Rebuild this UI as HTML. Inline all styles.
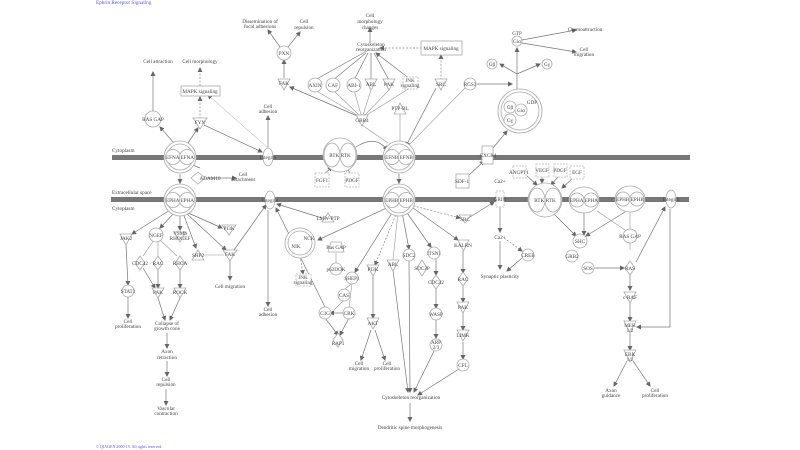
<!DOCTYPE html>
<html><head><meta charset="utf-8"><style>
body{margin:0;background:#fff;width:800px;height:450px;overflow:hidden}
svg{display:block}
text{font-family:"Liberation Serif",serif;font-size:5.2px;fill:#444;text-anchor:middle}
.n{fill:#fff;stroke:#aaa;stroke-width:0.8}
.d{fill:#fff;stroke:#bbb;stroke-width:0.8;stroke-dasharray:2 1}
.l{stroke:#777;stroke-width:0.7;fill:none;marker-end:url(#a)}
.ld{stroke:#888;stroke-width:0.7;fill:none;stroke-dasharray:2 1.5;marker-end:url(#a)}
.lt{stroke:#aaa;stroke-width:0.5;fill:none;marker-end:url(#a)}
.p{stroke:#999;stroke-width:0.6;fill:none}
</style></head><body>
<svg width="800" height="450" viewBox="0 0 800 450">
<defs><marker id="a" markerWidth="5" markerHeight="5" refX="4" refY="2.5" orient="auto" markerUnits="userSpaceOnUse"><path d="M0,0L5,2.5L0,5z" fill="#666"/></marker></defs>
<text x="96" y="4" style="fill:#55f;text-anchor:start">Ephrin Receptor Signaling</text>
<text x="96" y="448" style="fill:#55f;text-anchor:start;font-size:4px">© QIAGEN 2000-19. All rights reserved.</text>
<rect x="112" y="155" width="578" height="5" fill="#777"/>
<rect x="111" y="197" width="578" height="5" fill="#777"/>
<text x="112" y="152" style="text-anchor:start">Cytoplasm</text>
<text x="112" y="194" style="text-anchor:start">Extracellular space</text>
<text x="112" y="210" style="text-anchor:start">Cytoplasm</text>

<!-- lines -->
<path class="l" d="M174,143L160,127"/><path class="l" d="M188,143L198,128"/><path class="l" d="M153,111L153,72"/>
<path class="ld" d="M200,119L200,97"/><path class="ld" d="M200,86L200,68"/><path class="lt" d="M268,148L208,95"/>
<path class="l" d="M204,125L262,152"/><path class="l" d="M268,147L268,116"/>
<path class="l" d="M284,78L284,60"/><path class="l" d="M280,47L268,30"/><path class="l" d="M288,47L300,32"/>
<path class="l" d="M370,43L370,28"/><path class="ld" d="M436,48L380,48"/><path class="ld" d="M441,80L441,55"/>
<path class="p" d="M362,118L315,90M362,118L333,90M362,118L354,90M362,118L371,90M362,118L389,90M362,118L410,88"/>
<path class="l" d="M315,80L365,52M333,80L366,53M354,80L368,53M371,80L371,53M389,80L374,53M410,79L376,53"/>
<path class="l" d="M362,118L290,87"/><path class="p" d="M362,125L388,143"/>
<path class="l" d="M436,88L406,146"/><path class="p" d="M400,113L400,141"/><path class="p" d="M465,88L408,146"/>
<path class="l" d="M356,147C370,138 380,140 387,150"/>
<path class="l" d="M322,176L332,167"/><path class="l" d="M352,176L346,167"/>
<path class="l" d="M200,168L185,162"/><path class="l" d="M206,178L236,178"/>
<path class="l" d="M180,174L180,183"/><path class="l" d="M399,174L399,183"/>
<path class="l" d="M467,177L484,161"/><path class="l" d="M493,148L507,131"/>
<path class="l" d="M517,89L517,48"/><path class="l" d="M477,84L512,84"/>
<path class="p" d="M517,74L500,64"/><path class="l" d="M517,74L500,64"/><path class="l" d="M517,74L540,64"/>
<path class="l" d="M522,40L576,30"/><path class="l" d="M522,43L576,52"/>
<!-- lower -->
<path class="l" d="M170,210L132,234"/><path class="l" d="M175,212L160,228"/><path class="l" d="M180,214L180,230"/>
<path class="l" d="M186,212L222,228"/><path class="l" d="M183,213L196,248"/><path class="l" d="M186,213L226,250"/>
<path class="l" d="M126,245L128,285"/><path class="p" d="M154,240L143,256M158,240L158,256M160,240L177,256"/>
<path class="l" d="M143,268L155,288"/><path class="l" d="M158,268L158,288"/><path class="l" d="M180,268L180,288"/>
<path class="l" d="M128,297L128,318"/><path class="l" d="M158,298L165,320"/><path class="l" d="M180,298L170,320"/>
<path class="l" d="M167,333L167,348"/><path class="l" d="M167,361L167,376"/><path class="l" d="M166,389L166,405"/>
<path class="p" d="M203,255L224,255"/><path class="l" d="M230,261L230,280"/><path class="l" d="M234,250L266,205"/>
<path class="l" d="M268,210L268,306"/><path class="l" d="M322,218L277,204"/>
<path class="l" d="M393,205L318,240"/><path class="l" d="M325,307L276,208"/><path class="ld" d="M300,256L303,274"/>
<path class="p" d="M336,253L336,264"/><path class="l" d="M395,208L355,272"/><path class="p" d="M352,283L344,290M344,300L334,310M352,283L349,308"/>
<path class="l" d="M344,313L330,313"/><path class="l" d="M325,318L338,335"/><path class="l" d="M349,318L340,335"/>
<path class="ld" d="M397,212L375,265"/><path class="l" d="M373,276L373,318"/><path class="l" d="M371,330L361,360"/><path class="l" d="M375,330L385,360"/>
<path class="p" d="M398,212L393,260"/><path class="l" d="M402,212L409,249"/><path class="l" d="M405,210L431,247"/>
<path class="l" d="M393,270L408,392"/><path class="l" d="M409,261L410,392"/><path class="l" d="M436,258L436,275"/><path class="l" d="M436,288L436,308"/>
<path class="l" d="M436,320L436,338"/><path class="l" d="M434,351L414,392"/><path class="l" d="M459,369L418,395"/>
<path class="l" d="M410,403L410,421"/><path class="ld" d="M410,205L460,218"/><path class="l" d="M470,217L494,202"/>
<path class="l" d="M406,203L458,240"/><path class="l" d="M463,251L463,273"/><path class="l" d="M463,285L463,302"/><path class="l" d="M463,313L463,330"/><path class="l" d="M463,342L463,359"/>
<path class="l" d="M500,206L500,232"/><path class="l" d="M500,241L500,269"/><path class="ld" d="M504,238L522,251"/><path class="l" d="M522,258L507,271"/>
<path class="l" d="M527,176L537,185"/><path class="l" d="M542,176L542,183"/><path class="l" d="M558,177L551,185"/><path class="l" d="M573,178L562,188"/>
<path class="l" d="M553,213L576,236"/><path class="l" d="M584,213L584,235"/><path class="l" d="M625,212L586,236"/><path class="p" d="M597,211L628,232M630,212L630,231M630,241L630,250"/>
<path class="l" d="M594,268L624,268"/><path class="l" d="M630,274L630,290"/><path class="l" d="M630,303L630,321"/><path class="l" d="M630,333L630,350"/>
<path class="l" d="M627,361L614,386"/><path class="l" d="M633,361L650,386"/><path class="l" d="M636,262L665,207"/><path class="l" d="M670,209L670,327L637,327"/>

<!-- membrane complexes -->
<g><circle class="n" cx="180" cy="157" r="16"/><circle class="n" cx="180" cy="157" r="13"/><circle class="n" cx="173" cy="157" r="7.5"/><circle class="n" cx="187" cy="157" r="7.5"/><text x="180" y="159">EFNA EFNA</text></g>
<g><circle class="n" cx="180" cy="200" r="16"/><circle class="n" cx="180" cy="200" r="13"/><circle class="n" cx="173" cy="200" r="7.5"/><circle class="n" cx="187" cy="200" r="7.5"/><text x="180" y="202">EPHA EPHA</text></g>
<g><circle class="n" cx="399" cy="157" r="16"/><circle class="n" cx="399" cy="157" r="13"/><circle class="n" cx="392" cy="157" r="7.5"/><circle class="n" cx="406" cy="157" r="7.5"/><text x="399" y="159">EFNB EFNB</text></g>
<g><circle class="n" cx="399" cy="200" r="16"/><circle class="n" cx="399" cy="200" r="13"/><circle class="n" cx="392" cy="200" r="7.5"/><circle class="n" cx="406" cy="200" r="7.5"/><text x="399" y="202">EPHB EPHB</text></g>
<g><circle class="n" cx="340" cy="155" r="17"/><ellipse class="n" cx="332" cy="155" rx="8" ry="12"/><ellipse class="n" cx="348" cy="155" rx="8" ry="12"/><text x="340" y="157">RTK RTK</text></g>
<g><circle class="n" cx="545" cy="200" r="17"/><ellipse class="n" cx="537" cy="200" rx="8" ry="12"/><ellipse class="n" cx="553" cy="200" rx="8" ry="12"/><text x="545" y="202">RTK RTK</text></g>
<g><ellipse class="n" cx="584" cy="200" rx="15" ry="13"/><circle class="n" cx="577" cy="200" r="7"/><circle class="n" cx="591" cy="200" r="7"/><text x="584" y="202">EPHA EPHA</text></g>
<g><ellipse class="n" cx="630" cy="199" rx="15" ry="13"/><circle class="n" cx="623" cy="199" r="7"/><circle class="n" cx="637" cy="199" r="7"/><text x="630" y="201">EPHB EPHB</text></g>
<ellipse class="n" cx="268" cy="157" rx="5" ry="9"/><text x="268" y="159">Integrin</text>
<ellipse class="n" cx="270" cy="200" rx="5" ry="9"/><text x="270" y="202">Integrin</text>
<ellipse class="n" cx="671" cy="199" rx="5" ry="9"/><text x="671" y="201">Integrin</text>
<rect class="n" x="482" y="146" width="11" height="18"/><text x="488" y="157">CXCR4</text>
<rect class="d" x="496" y="191" width="8" height="16"/><text x="500" y="201">GRIN</text>

<!-- circles -->
<g class="n">
<circle cx="153" cy="119" r="8"/><circle cx="284" cy="53" r="7"/><circle cx="315" cy="85" r="7"/><circle cx="333" cy="85" r="7"/><circle cx="354" cy="85" r="7"/><circle cx="470" cy="84" r="6"/>
<circle cx="517" cy="41" r="5"/><circle cx="492" cy="64" r="5"/><circle cx="547" cy="64" r="5"/>
<circle cx="520" cy="111" r="22"/><circle cx="520" cy="111" r="19"/><circle cx="510" cy="107" r="6"/><circle cx="521" cy="110" r="6"/><circle cx="510" cy="120" r="6"/>
<circle cx="156" cy="235" r="7"/><circle cx="128" cy="291" r="6"/><circle cx="300" cy="243" r="15"/><circle cx="300" cy="243" r="12"/><circle cx="336" cy="269" r="6"/><circle cx="352" cy="278" r="6"/><circle cx="344" cy="295" r="6"/><circle cx="325" cy="313" r="6"/><circle cx="349" cy="313" r="6"/>
<circle cx="409" cy="255" r="6"/><circle cx="434" cy="253" r="6"/><circle cx="436" cy="314" r="6"/><circle cx="436" cy="345" r="6"/><circle cx="463" cy="365" r="6"/><circle cx="528" cy="255" r="6"/>
<circle cx="580" cy="241" r="7"/><circle cx="572" cy="256" r="6"/><circle cx="588" cy="268" r="6"/><circle cx="630" cy="236" r="7"/>
</g>
<!-- triangles down -->
<g class="n">
<path d="M193,118h14l-7,11z"/><path d="M278,79h12l-6,11z"/><path d="M365,79h12l-6,11z"/><path d="M383,79h12l-6,11z"/><path d="M435,79h12l-6,11z"/><path d="M356,115h12l-6,11z"/>
<path d="M120,234h12l-6,11z"/><path d="M174,232h12l-6,10z"/><path d="M222,225h14l-7,10z"/><path d="M223,250h14l-7,11z"/><path d="M152,288h12l-6,10z"/><path d="M174,288h12l-6,10z"/>
<path d="M367,265h12l-6,11z"/><path d="M367,318h12l-6,11z"/><path d="M387,260h12l-6,11z"/><path d="M458,240h11l-5.5,11z"/><path d="M457,302h12l-6,11z"/><path d="M457,330h12l-6,11z"/>
<path d="M459,215h12l-6,8z"/><path d="M624,292h12l-6,11z"/><path d="M624,321h12l-6,12z"/><path d="M624,350h12l-6,12z"/>
</g>
<!-- triangles up -->
<g class="n"><path d="M394,114h12l-6,-11z"/><path d="M322,222h12l-6,-9z"/><path d="M192,260h12l-6,-10z"/></g>
<!-- diamonds -->
<g class="n"><path d="M198,172l7,6l-7,6l-7,-6z"/><path d="M140,256l5,7l-5,7l-5,-7z"/><path d="M158,256l5,7l-5,7l-5,-7z"/><path d="M180,256l5,7l-5,7l-5,-7z"/>
<path d="M338,333l5,7l-5,7l-5,-7z"/><path d="M422,260l5,8l-5,8l-5,-8z"/><path d="M436,275l5,7l-5,7l-5,-7z"/><path d="M463,272l5,7l-5,7l-5,-7z"/><path d="M630,261l5,7l-5,7l-5,-7z"/></g>
<!-- boxes -->
<rect class="n" x="181" y="86" width="39" height="10"/><rect class="n" x="421" y="41" width="41" height="14"/>
<rect class="d" x="403" y="77" width="15" height="12"/><rect class="d" x="296" y="274" width="15" height="12"/>
<rect class="d" x="315" y="173" width="14" height="14"/><rect class="d" x="345" y="173" width="14" height="14"/>
<rect class="n" x="456" y="174" width="13" height="14"/><rect class="d" x="513" y="166" width="13" height="12"/><rect class="d" x="536" y="164" width="13" height="13"/><rect class="d" x="554" y="164" width="13" height="13"/><rect class="d" x="570" y="166" width="14" height="13"/>
<path class="n" d="M331,242h10l3,10h-16z"/><circle class="n" cx="500" cy="181" r="0.1"/>

<!-- labels -->
<text x="158" y="63">Cell attraction</text><text x="200" y="63">Cell morphology</text><text x="200" y="93">MAPK signaling</text>
<text x="153" y="121">RAS GAP</text><text x="200" y="124">FYN</text><text x="268" y="108">Cell</text><text x="268" y="113">adhesion</text>
<text x="260" y="23">Dissemination of</text><text x="260" y="28">focal adhesions</text><text x="304" y="23">Cell</text><text x="304" y="29">repulsion</text>
<text x="284" y="55">PXN</text><text x="284" y="85">FAK</text><text x="370" y="17">Cell</text><text x="370" y="23">morphology</text><text x="370" y="29">changes</text>
<text x="371" y="46">Cytoskeleton</text><text x="371" y="51">reorganization</text><text x="441" y="50">MAPK signaling</text>
<text x="315" y="87">AXIN</text><text x="333" y="87">CAF</text><text x="354" y="87">ABI-1</text><text x="371" y="86">ABL</text><text x="389" y="86">PAK</text>
<text x="410" y="82">JNK</text><text x="410" y="87">signaling</text><text x="441" y="86">SRC</text><text x="362" y="122">GRB4</text><text x="400" y="110">PTP-BL</text>
<text x="210" y="180">ADAM10</text><text x="243" y="176">Cell</text><text x="243" y="181">detachment</text><text x="322" y="182">FGF1</text><text x="352" y="182">PDGF</text>
<text x="470" y="86">RGS3</text><text x="517" y="35">GTP</text><text x="517" y="43">Giα</text><text x="585" y="31">Chemoattraction</text><text x="584" y="51">Cell</text><text x="584" y="56">migration</text>
<text x="492" y="66">Gβ</text><text x="547" y="66">Gγ</text><text x="510" y="109">Gβ</text><text x="521" y="112">Giα</text><text x="510" y="122">Gγ</text><text x="532" y="104">GDP</text>
<text x="462" y="183">SDF-1</text><text x="500" y="183">Ca2+</text><text x="519" y="174">ANGPT1</text><text x="542" y="172">VEGF</text><text x="560" y="172">PDGF</text><text x="577" y="174">EGF</text>
<text x="126" y="240">JAK2</text><text x="156" y="237">NGEF</text><text x="180" y="235">VSMb</text><text x="180" y="240">RHOGEF</text><text x="229" y="230">PI3K</text>
<text x="198" y="257">SHP2</text><text x="230" y="256">FAK</text><text x="230" y="288">Cell migration</text>
<text x="140" y="265">CDC42</text><text x="158" y="265">RAC</text><text x="180" y="265">RHOA</text><text x="128" y="293">STAT3</text><text x="158" y="294">PAK</text><text x="180" y="294">ROCK</text>
<text x="128" y="323">Cell</text><text x="128" y="328">proliferation</text><text x="167" y="325">Collapse of</text><text x="167" y="330">growth cone</text>
<text x="167" y="353">Axon</text><text x="167" y="359">retraction</text><text x="166" y="381">Cell</text><text x="166" y="386">repulsion</text><text x="166" y="410">Vascular</text><text x="166" y="415">contraction</text>
<text x="268" y="311">Cell</text><text x="268" y="316">adhesion</text><text x="328" y="220">LMW-PTP</text><text x="296" y="248">NIK</text><text x="309" y="240">NCK</text>
<text x="303" y="279">JNK</text><text x="303" y="284">signaling</text><text x="336" y="249">Ras GAP</text><text x="336" y="271">p62DOK</text><text x="352" y="280">SHEP1</text>
<text x="344" y="297">CAS</text><text x="325" y="315">C3G</text><text x="349" y="315">CRK</text><text x="338" y="345">RAP1</text>
<text x="373" y="271">PI3K</text><text x="373" y="325">AKT</text><text x="393" y="266">ABL</text><text x="359" y="365">Cell</text><text x="359" y="370">migration</text><text x="387" y="365">Cell</text><text x="387" y="370">proliferation</text>
<text x="409" y="257">SDC2</text><text x="422" y="270">SDC2P</text><text x="434" y="255">ITSN1</text><text x="436" y="284">CDC42</text><text x="436" y="316">WASP</text><text x="436" y="344">ARP</text><text x="436" y="349">2/3</text>
<text x="411" y="399">Cytoskeleton reorganization</text><text x="410" y="429">Dendritic spine morphogenesis</text>
<text x="465" y="221">SRC</text><text x="463" y="247">KALRN</text><text x="463" y="281">RAC</text><text x="463" y="309">PAK</text><text x="463" y="337">LIMK</text><text x="463" y="367">CFL</text>
<text x="500" y="239">Ca2+</text><text x="528" y="257">CREB</text><text x="500" y="278">Synaptic plasticity</text>
<text x="580" y="243">SHC</text><text x="572" y="258">GRB2</text><text x="588" y="270">SOS</text><text x="630" y="238">RAS GAP</text><text x="630" y="270">RAS</text>
<text x="630" y="299">c-RAF</text><text x="630" y="327">MEK</text><text x="630" y="332">1/2</text><text x="630" y="356">ERK</text><text x="630" y="361">1/2</text>
<text x="611" y="392">Axon</text><text x="611" y="397">guidance</text><text x="655" y="392">Cell</text><text x="655" y="397">proliferation</text>
</svg>
</body></html>
